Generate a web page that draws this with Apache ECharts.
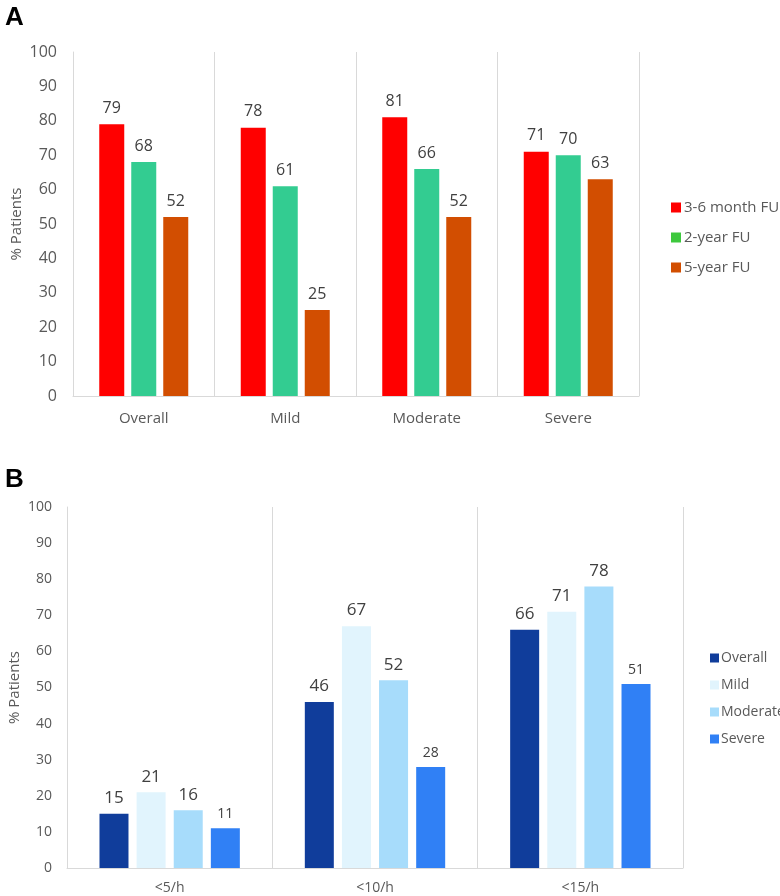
<!DOCTYPE html>
<html><head><meta charset="utf-8">
<script src="https://cdn.jsdelivr.net/npm/echarts@6/dist/echarts.min.js"></script>
<style>html,body{margin:0;padding:0;background:#fff}#c{width:780px;height:896px}</style>
</head><body><div id="c"></div>
<script>
// Panel A data
const catsA = ['Overall', 'Mild', 'Moderate', 'Severe'];
const seriesNamesA = ['3-6 month FU', '2-year FU', '5-year FU'];
const fu36 = [79, 78, 81, 71];
const fu2y = [68, 61, 66, 70];
const fu5y = [52, 25, 52, 63];
// Panel B data
const catsB = ['<5/h', '<10/h', '<15/h'];
const seriesNamesB = ['Overall', 'Mild', 'Moderate', 'Severe'];
const bOverall = [15, 46, 66];
const bMild = [21, 67, 71];
const bModerate = [16, 52, 78];
const bSevere = [11, 28, 51];
const yTicks = [0, 10, 20, 30, 40, 50, 60, 70, 80, 90, 100];

const colorsA = ['#FF0000', '#33CC91', '#D24E01'];
const legendIconA = ['#FF0000', '#3DC83D', '#D24E01'];
const colorsB = ['#103D9B', '#E1F4FD', '#A7DCFB', '#3080F5'];
// label font sizes for panel B (style only)
const labelSizeB = [[17, 17, 17], [17, 17, 17], [17, 17, 17], [14, 14, 14]];

const txt = '#404040';
const axisTxt = '#595959';
const lineC = '#D9D9D9';
const font = 'Open Sans';

const chart = echarts.init(document.getElementById('c'), null, {renderer: 'canvas'});

function catAxis(idx, cats, margin, size) {
  return {
    type: 'category', gridIndex: idx, data: cats,
    axisLine: {show: true, lineStyle: {color: lineC, width: 1}},
    axisTick: {show: false},
    axisLabel: {color: axisTxt, fontSize: size, fontFamily: font, margin: margin},
    splitLine: {show: true, interval: 0, lineStyle: {color: lineC, width: 1}}
  };
}
function valAxis(idx, size, margin, gap) {
  return {
    type: 'value', gridIndex: idx, min: yTicks[0], max: yTicks[yTicks.length - 1], interval: 10,
    axisLine: {show: true, lineStyle: {color: lineC}},
    axisTick: {show: false},
    splitLine: {show: false},
    axisLabel: {color: axisTxt, fontSize: size, fontFamily: font, margin: margin},
    name: '% Patients', nameLocation: 'middle', nameGap: gap, nameRotate: 90, nameMoveOverlap: false,
    nameTextStyle: {color: axisTxt, fontSize: 15, fontFamily: font}
  };
}

const seriesA = [fu36, fu2y, fu5y].map((d, i) => ({
  name: seriesNamesA[i], type: 'bar', xAxisIndex: 0, yAxisIndex: 0,
  data: d, barWidth: 25, barGap: '28%',
  itemStyle: {color: colorsA[i]},
  label: {show: true, position: 'top', distance: 8, color: txt, fontSize: 16, fontFamily: font}
}));
const seriesB = [bOverall, bMild, bModerate, bSevere].map((d, i) => ({
  name: seriesNamesB[i], type: 'bar', xAxisIndex: 1, yAxisIndex: 1,
  data: d.map((v, j) => ({value: v, label: {fontSize: labelSizeB[i][j]}})),
  barWidth: 29, barGap: '28%',
  itemStyle: {color: colorsB[i]},
  label: {show: true, position: 'top', distance: 7, color: txt, fontFamily: font}
}));

chart.setOption({
  animation: false,
  backgroundColor: '#fff',
  title: [
    {text: 'A', left: 0, top: 0, textStyle: {fontSize: 26, fontWeight: 'bold', color: '#000', fontFamily: 'Liberation Sans'}},
    {text: 'B', left: 0, top: 462, textStyle: {fontSize: 26, fontWeight: 'bold', color: '#000', fontFamily: 'Liberation Sans'}}
  ],
  grid: [
    {left: 73, right: 141, top: 52, bottom: 500, outerBoundsMode: 'none', containLabel: false},
    {left: 67, right: 97, top: 507, bottom: 28, outerBoundsMode: 'none', containLabel: false}
  ],
  legend: [
    {
      data: seriesNamesA.map((n, i) => ({name: n, itemStyle: {color: legendIconA[i]}})),
      orient: 'vertical', left: 666, top: 195, itemWidth: 10, itemHeight: 10, itemGap: 15,
      icon: 'rect', textStyle: {color: axisTxt, fontSize: 15, fontFamily: font, padding: [0, 0, 0, -2]}
    },
    {
      data: seriesNamesB, orient: 'vertical', left: 705, top: 646, itemWidth: 9, itemHeight: 9, itemGap: 13,
      icon: 'rect', textStyle: {color: axisTxt, fontSize: 14, fontFamily: font, padding: [0, 0, 0, -3]}
    }
  ],
  xAxis: [catAxis(0, catsA, 15, 15), catAxis(1, catsB, 13, 14)],
  yAxis: [valAxis(0, 16, 16, 49), valAxis(1, 14, 15, 45)],
  series: seriesA.concat(seriesB)
});
</script>
</body></html>
